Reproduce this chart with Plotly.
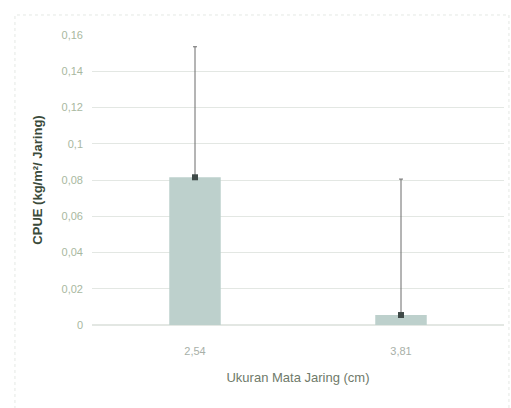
import plotly.graph_objects as go

categories = ["2,54", "3,81"]
cpue = [0.0815, 0.0055]
err_plus = [0.072, 0.075]
y_ticks = [0, 0.02, 0.04, 0.06, 0.08, 0.1, 0.12, 0.14, 0.16]
y_tick_labels = ["0", "0,02", "0,04", "0,06", "0,08", "0,1", "0,12", "0,14", "0,16"]

fig = go.Figure()
fig.add_trace(go.Bar(
    x=categories, y=cpue,
    marker=dict(color="#bdd0cc", line=dict(width=0)),
    error_y=dict(type="data", symmetric=False, array=err_plus,
                 arrayminus=[0, 0], color="#6b6b6b", thickness=1, width=2),
    showlegend=False,
))
fig.add_trace(go.Scatter(
    x=categories, y=cpue, mode="markers",
    marker=dict(color="#3f4a48", size=6, symbol="square"),
    showlegend=False, hoverinfo="skip",
))

fig.update_layout(
    width=511, height=408,
    margin=dict(l=92, r=7, t=35, b=83),
    paper_bgcolor="white", plot_bgcolor="white",
    bargap=0.75,
    font=dict(family="Liberation Sans, Arial", size=10, color="#a8b4a8"),
    xaxis=dict(
        automargin=False,
        showgrid=False, showline=False, ticks="",
        ticklabelstandoff=18,
        tickfont=dict(size=11, color="#a8b0a8"),
        title=dict(text="Ukuran Mata Jaring (cm)", font=dict(size=13, color="#6f7a6a"), standoff=16),
    ),
    yaxis=dict(
        automargin=False,
        range=[0, 0.16], tickvals=y_ticks, ticktext=y_tick_labels,
        showgrid=True, gridcolor="#e3e7e3", gridwidth=1,
        zeroline=True, zerolinecolor="#e3e7e3",
        showline=False, ticks="",
        ticklabelstandoff=8,
        tickfont=dict(size=11, color="#a8b8a0"),
        title=dict(text="<b>CPUE (kg/m²/ Jaring)</b>", font=dict(size=13, color="#3a4a3a"), standoff=16),
    ),
    shapes=[
        dict(type="rect", xref="paper", yref="paper",
             x0=-0.187, x1=1.012, y0=-0.3, y1=1.069,
             line=dict(color="#e4e8e4", width=1, dash="dot"), fillcolor="rgba(0,0,0,0)", layer="below"),
    ],
)

fig.write_html("out.html", config={"displayModeBar": False},
               post_script="document.body.style.margin='0';")
